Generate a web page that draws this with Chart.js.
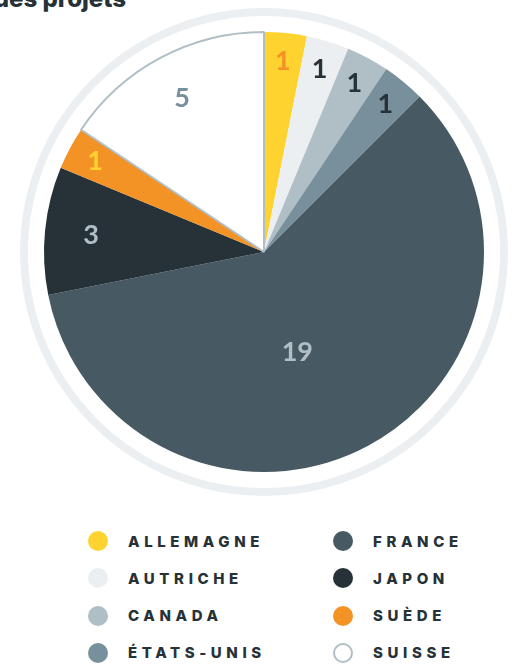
<!DOCTYPE html>
<html lang="fr">
<head>
<meta charset="utf-8">
<script src="https://cdn.jsdelivr.net/npm/chart.js@4/dist/chart.umd.min.js"></script>
<style>
  html, body { margin: 0; padding: 0; background: #fff; overflow: hidden; }
  body { width: 529px; height: 664px; position: relative; font-family: Inter, "Open Sans", sans-serif; }
  .title {
    position: absolute; right: calc(100% - 126px); top: -16px;
    white-space: nowrap; font-size: 24px; font-weight: 800; color: #263238; line-height: 30px;
  }
  .chart-box { position: absolute; left: 0; top: 0; width: 529px; height: 504px; }
  .legend { position: absolute; left: 0; top: 0; width: 529px; }
  .legend-item {
    position: absolute; display: flex; align-items: center; height: 24px;
    font-size: 15px; font-weight: 800; letter-spacing: 4.6px; color: #263238;
  }
  .legend-item .dot { width: 20px; height: 20px; border-radius: 50%; box-sizing: border-box; margin-right: 20px; }
</style>
</head>
<body>
<div class="title">Répartition géographique des projets</div>
<div class="chart-box"><canvas id="pieChart"></canvas></div>
<div class="legend" id="legend"></div>
<script>
/* DATA */
const countries = ['Allemagne', 'Autriche', 'Canada', 'États-Unis', 'France', 'Japon', 'Suède', 'Suisse'];
const projects = [1, 1, 1, 1, 19, 3, 1, 5];

/* STYLES */
const sliceColors = ['#fed330', '#eceff1', '#b0bec5', '#78909c', '#475a64', '#263238', '#f39325', '#ffffff'];
const labelColors = ['#f39325', '#263238', '#263238', '#263238', '#b0bec5', '#b0bec5', '#fed330', '#78909c'];
const borderWidths = [0, 0, 0, 0, 0, 0, 0, 2];

// outer light ring around the pie
const ringPlugin = {
    id: 'ring',
    beforeDatasetsDraw(chart) {
        const arc = chart.getDatasetMeta(0).data[0];
        const ctx = chart.ctx;
        ctx.save();
        ctx.beginPath();
        ctx.arc(arc.x, arc.y, arc.outerRadius + 20, 0, Math.PI * 2);
        ctx.lineWidth = 8;
        ctx.strokeStyle = '#eceff1';
        ctx.stroke();
        ctx.restore();
    }
};

// value labels inside the slices
const valueLabels = {
    id: 'valueLabels',
    afterDatasetsDraw(chart) {
        const ctx = chart.ctx;
        const total = projects.reduce((a, b) => a + b, 0);
        ctx.save();
        ctx.font = 'bold 27px Lato';
        ctx.textAlign = 'center';
        ctx.textBaseline = 'middle';
        chart.getDatasetMeta(0).data.forEach((arc, i) => {
            const share = projects[i] / total;
            let factor = 0.87;
            let mid = (arc.startAngle + arc.endAngle) / 2;
            if (share > 0.5) {
                factor = 0.48;
                mid += 0.17; // big slice label sits a bit further round
            } else if (share > 0.05) {
                factor = 0.79;
            }
            const r = arc.outerRadius * factor;
            ctx.fillStyle = labelColors[i];
            ctx.fillText(projects[i], arc.x + Math.cos(mid) * r, arc.y + Math.sin(mid) * r);
        });
        ctx.restore();
    }
};

function createPieChart() {
    const ctx = document.getElementById('pieChart').getContext('2d');
    return new Chart(ctx, {
        type: 'pie',
        data: {
            labels: countries,
            datasets: [{
                data: projects,
                backgroundColor: sliceColors,
                borderColor: '#b0bec5',
                borderWidth: borderWidths,
            }],
        },
        options: {
            responsive: true,
            maintainAspectRatio: false,
            animation: false,
            layout: { padding: { left: 43, right: 44, top: 31, bottom: 31 } },
            plugins: {
                legend: { display: false },
                tooltip: { enabled: false },
            },
        },
        plugins: [ringPlugin, valueLabels],
    });
}

// two-column legend, filled column by column
function buildLegend() {
    const legend = document.getElementById('legend');
    countries.forEach((name, i) => {
        const col = Math.floor(i / 4);
        const row = i % 4;
        const item = document.createElement('div');
        item.className = 'legend-item';
        item.style.left = (88 + col * 245) + 'px';
        item.style.top = (529 + row * 37.3) + 'px';
        const dot = document.createElement('span');
        dot.className = 'dot';
        if (sliceColors[i] === '#ffffff') {
            dot.style.border = '2px solid #b0bec5';
        } else {
            dot.style.background = sliceColors[i];
        }
        item.appendChild(dot);
        item.appendChild(document.createTextNode(name.toUpperCase()));
        legend.appendChild(item);
    });
}

buildLegend();
createPieChart();
</script>
</body>
</html>
